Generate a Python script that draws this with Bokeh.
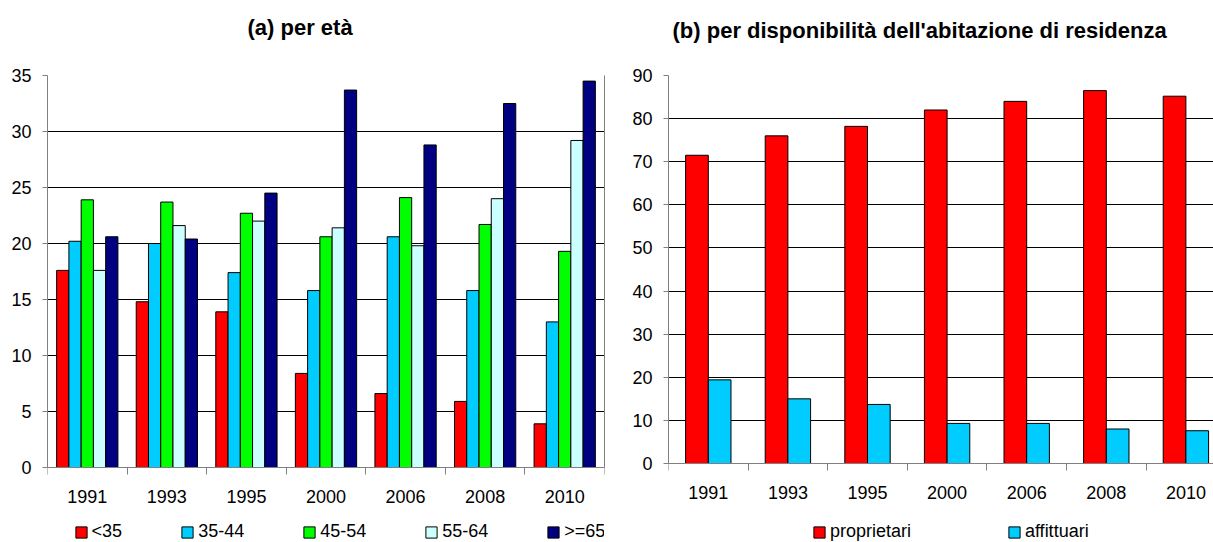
from bokeh.plotting import figure
from bokeh.layouts import row
from bokeh.models import (Range1d, FixedTicker, Legend, LegendItem, ColumnDataSource, Title,
                          LinearAxis)
from bokeh.transform import dodge
from bokeh.embed import file_html
from bokeh.resources import INLINE

# ---- data ----
years = ["1991", "1993", "1995", "2000", "2006", "2008", "2010"]
age_groups = ["<35", "35-44", "45-54", "55-64", ">=65"]
under35 = [17.6, 14.8, 13.9, 8.4, 6.6, 5.9, 3.9]
age35_44 = [20.2, 20.0, 17.4, 15.8, 20.6, 15.8, 13.0]
age45_54 = [23.9, 23.7, 22.7, 20.6, 24.1, 21.7, 19.3]
age55_64 = [17.6, 21.6, 22.0, 21.4, 19.8, 24.0, 29.2]
over65 = [20.6, 20.4, 24.5, 33.7, 28.8, 32.5, 34.5]
tenure_groups = ["proprietari", "affittuari"]
proprietari = [71.5, 76.0, 78.2, 82.0, 84.0, 86.5, 85.2]
affittuari = [19.4, 15.0, 13.7, 9.3, 9.3, 8.0, 7.6]

FONT = "Liberation Sans"
age_colors = ["#FF0000", "#00CCFF", "#00FF00", "#CCFFFF", "#000080"]
tenure_colors = ["#FF0000", "#00CCFF"]

xpos = list(range(1, len(years) + 1))
src_a = ColumnDataSource(dict(x=xpos, s0=under35, s1=age35_44, s2=age45_54, s3=age55_64, s4=over65))
src_b = ColumnDataSource(dict(x=xpos, s0=proprietari, s1=affittuari))


def style(p, ymax, ystep, title_standoff, spacer_standoff):
    p.yaxis.ticker = FixedTicker(ticks=list(range(0, ymax + 1, ystep)))
    p.yaxis.bounds = (0, ymax)
    p.xaxis.fixed_location = 0
    p.xaxis.ticker = FixedTicker(ticks=xpos, minor_ticks=[i + 0.5 for i in range(0, len(years) + 1)])
    p.xaxis.major_label_overrides = {i: y for i, y in zip(xpos, years)}
    for ax in (p.xaxis[0], p.yaxis[0]):
        ax.axis_line_color = "#808080"
        ax.major_label_text_font = FONT
        ax.major_label_text_font_size = "18px"
        ax.major_label_text_color = "black"
        ax.minor_tick_in = 0
        ax.major_tick_in = 0
        ax.major_tick_line_color = "#808080"
        ax.minor_tick_line_color = "#808080"
    p.xaxis.major_tick_out = 0
    p.xaxis.minor_tick_out = 7
    p.xaxis.major_label_standoff = 15
    p.yaxis.major_tick_out = 5
    p.yaxis.minor_tick_out = 0
    p.yaxis.major_label_standoff = 11
    p.xgrid.grid_line_color = None
    p.ygrid.grid_line_color = "black"
    p.ygrid.grid_line_width = 1
    p.outline_line_color = None
    p.title.text_font = FONT
    p.title.text_font_size = "22px"
    p.title.text_font_style = "bold"
    p.title.align = "left"
    p.title.vertical_align = "top"
    p.title.standoff = title_standoff
    p.title.text_color = "black"
    # blank spacer between the title and the plot area
    p.add_layout(Title(text=" ", text_font_size="2px", standoff=spacer_standoff), "above")


def make_legend(items, x, spacing):
    return Legend(items=items, orientation="horizontal", location=(x, 0), glyph_width=14, glyph_height=14,
                  label_standoff=4, spacing=spacing, padding=0, margin=0, border_line_color=None,
                  background_fill_alpha=0, label_text_font=FONT, label_text_font_size="18px",
                  label_text_color="black")


# ---- (a) per età ----
# plot area: value 35 at y=72px, value 0 at y=464px; the frame continues to the bottom edge
ppu1 = 392 / 35
p1 = figure(frame_width=557, frame_height=470, x_range=Range1d(0.5, 7.5), y_range=Range1d(-78 / ppu1, 35),
            output_backend="svg", toolbar_location=None, title="(a) per età",
            min_border_left=47, min_border_right=6, min_border_top=72, min_border_bottom=0)
style(p1, 35, 5, 22, 19)
border = LinearAxis(ticker=FixedTicker(ticks=[]), bounds=(0, 35), axis_line_color="#808080",
                    major_tick_out=0, minor_tick_out=0, major_tick_in=0, minor_tick_in=0,
                    major_label_standoff=0)
p1.add_layout(border, "right")
bw = 0.154
r_a = []
for k, (col, name) in enumerate(zip(age_colors, age_groups)):
    r = p1.vbar(x=dodge("x", (k - 2) * bw, range=p1.x_range), top="s%d" % k, width=bw, bottom=0,
                source=src_a, fill_color=col, line_color="black", line_width=1)
    r_a.append(r)
p1.title.offset = 200
leg1 = make_legend([LegendItem(label=n, renderers=[r]) for n, r in zip(age_groups, r_a)], 26.6, 58)
p1.add_layout(leg1)

# ---- (b) per disponibilità dell'abitazione di residenza ----
ppu2 = 388 / 90
p2 = figure(frame_width=545, frame_height=467, x_range=Range1d(0.5, 0.5 + 545 / 79.6),
            y_range=Range1d(-79 / ppu2, 90),
            output_backend="svg", toolbar_location=None,
            title="(b) per disponibilità dell'abitazione di residenza",
            min_border_left=58, min_border_right=0, min_border_top=75, min_border_bottom=0)
style(p2, 90, 10, 34, 10)
bw2 = 0.285
r_b = []
for k, (col, name) in enumerate(zip(tenure_colors, tenure_groups)):
    r = p2.vbar(x=dodge("x", (k - 0.5) * bw2, range=p2.x_range), top="s%d" % k, width=bw2, bottom=0,
                source=src_b, fill_color=col, line_color="black", line_width=1)
    r_b.append(r)
p2.title.offset = 4
leg2 = make_legend([LegendItem(label=n, renderers=[r]) for n, r in zip(tenure_groups, r_b)], 143.9, 96)
p2.add_layout(leg2)

layout = row(p1, p2)
open("out.html", "w").write(file_html(layout, INLINE))
